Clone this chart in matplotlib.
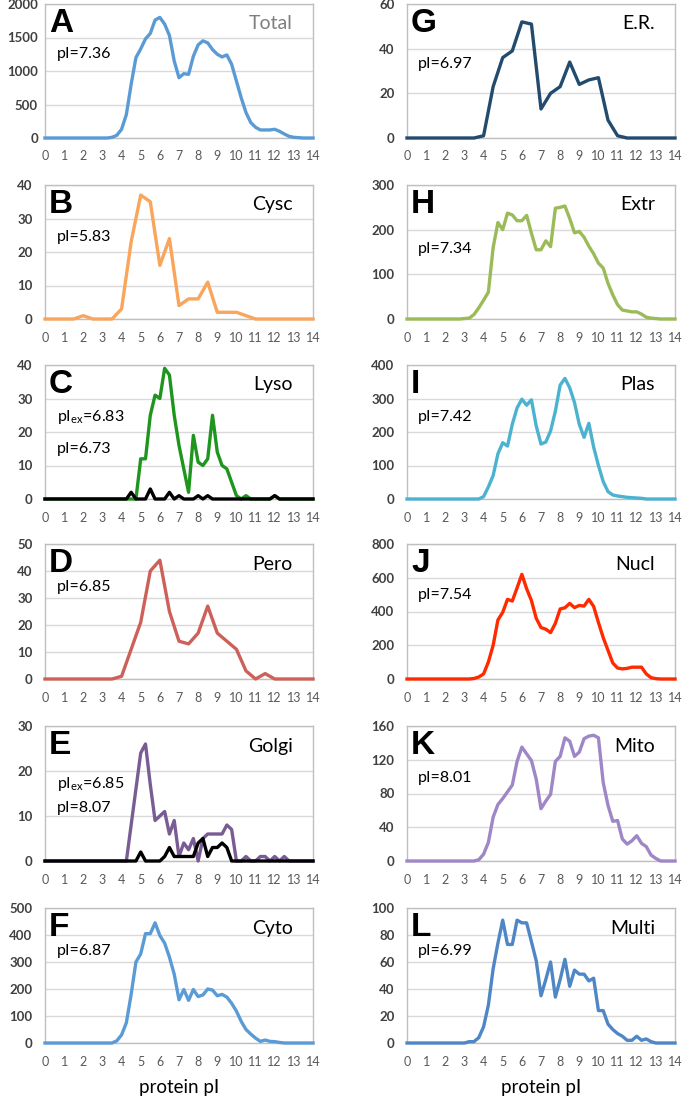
import matplotlib
matplotlib.use("Agg")
import matplotlib.pyplot as plt
import numpy as np

plt.rcParams["font.family"] = ["Lato", "DejaVu Sans"]
plt.rcParams["mathtext.default"] = "regular"

# bin centres (protein pI); some panels use 0.5 bins, the rest 0.25 bins
x_half = np.arange(0, 14.01, 0.5)
x_quarter = np.arange(0, 14.01, 0.25)

total = [0, 0, 0, 0, 0, 0, 0, 0, 0, 0, 0, 0, 0, 0,
         10, 40, 130, 350, 800, 1200, 1330, 1480, 1560, 1760, 1800, 1700,
         1530, 1150, 900, 960, 950, 1220, 1390, 1450, 1420, 1320, 1250, 1210,
         1240, 1100, 850, 600, 380, 230, 160, 120, 120, 120, 130, 100,
         60, 25, 10, 5, 0, 0, 0]
er = [0, 0, 0, 0, 0, 0, 0, 0,
      1, 23, 36, 39, 52, 51, 13, 20, 23, 34, 24, 26, 27, 8, 1,
      0, 0, 0, 0, 0, 0]
cysc = [0, 0, 0, 0, 1, 0, 0, 0,
        3, 23, 37, 35, 16, 24, 4, 6, 6, 11, 2, 2, 2, 1, 0,
        0, 0, 0, 0, 0, 0]
extr = [0, 0, 0, 0, 0, 0, 0, 0, 0, 0, 0, 0,
        1, 2, 10, 25, 42, 60, 160, 216, 200, 237, 233, 220, 220, 232, 192, 155,
        155, 175, 162, 248, 250, 253, 225, 193, 196, 183, 163, 146,
        125, 114, 80, 54, 32, 20, 18, 16, 16, 11, 4, 2, 1, 0, 0, 0, 0]
lyso = [0, 0, 0, 0, 0, 0, 0, 0, 0, 0, 0, 0, 0, 0, 0, 0, 0, 0, 0, 0,
        12, 12, 25, 31, 30, 39, 37, 25, 16, 9, 2, 19, 11, 10, 12, 25,
        14, 10, 9, 5, 1, 0, 1, 0, 0, 0, 0, 0, 1, 0, 0, 0, 0, 0, 0, 0, 0]
lyso_ex = [0, 0, 0, 0, 0, 0, 0, 0, 0, 0, 0, 0, 0, 0, 0, 0,
           0, 0, 2, 0, 0, 0, 3, 0, 0, 0, 2, 0, 1, 0, 0, 0, 1, 0, 1, 0,
           0, 0, 0, 0, 0, 0, 0, 0, 0, 0, 0, 0, 1, 0, 0, 0, 0, 0, 0, 0, 0]
plas = [0, 0, 0, 0, 0, 0, 0, 0, 0, 0, 0, 0, 0, 0, 0, 0,
        7, 36, 70, 135, 168, 158, 223, 272, 298, 280, 296, 218,
        164, 170, 203, 262, 340, 360, 332, 288, 223, 184, 226, 155,
        100, 52, 22, 12, 9, 7, 5, 4, 3, 2, 0, 0, 0, 0, 0, 0, 0]
pero = [0, 0, 0, 0, 0, 0, 0, 0,
        1, 11, 21, 40, 44, 25, 14, 13, 17, 27, 17, 14, 11, 3, 0, 2,
        0, 0, 0, 0, 0]
nucl = [0, 0, 0, 0, 0, 0, 0, 0, 0, 0, 0, 0, 0, 0,
        3, 12, 30, 100, 200, 350, 395, 472, 462, 540, 620, 535, 465, 360,
        305, 295, 275, 330, 415, 422, 448, 423, 436, 432, 472, 430,
        335, 245, 170, 95, 65, 60, 63, 70, 70, 70, 30, 8, 2, 0, 0, 0, 0]
golgi = [0, 0, 0, 0, 0, 0, 0, 0, 0, 0, 0, 0, 0, 0, 0, 0, 0, 0,
         8, 16, 24, 26, 17, 9, 10, 11, 6, 9, 1, 4, 2.5, 5, 0, 5, 6, 6,
         6, 6, 8, 7, 0, 0, 1, 0, 0, 1, 1, 0, 1, 0, 1, 0, 0, 0, 0, 0, 0]
golgi_ex = [0, 0, 0, 0, 0, 0, 0, 0, 0, 0, 0, 0, 0, 0, 0, 0, 0, 0, 0, 0,
            2, 0, 0, 0, 0, 1, 3, 1, 1, 1, 1, 1, 4, 5, 1, 3, 3, 4, 3, 0,
            0, 0, 0, 0, 0, 0, 0, 0, 0, 0, 0, 0, 0, 0, 0, 0, 0]
mito = [0, 0, 0, 0, 0, 0, 0, 0, 0, 0, 0, 0, 0, 0, 0,
        1.5, 8, 22, 52, 67, 74, 82, 90, 118, 135, 127, 119, 97,
        62, 71, 79, 118, 124, 146, 142, 124, 129, 145, 148, 149,
        146, 93, 66, 47, 48, 26, 20, 24, 30, 21, 17, 7, 3, 0, 0, 0, 0]
cyto = [0, 0, 0, 0, 0, 0, 0, 0, 0, 0, 0, 0, 0, 0, 0,
        8, 30, 75, 180, 300, 330, 405, 405, 445, 398, 370, 318, 255,
        160, 198, 158, 198, 172, 178, 200, 196, 175, 180, 170, 147,
        118, 80, 50, 33, 18, 6, 11, 6, 5, 2, 0, 0, 0, 0, 0, 0, 0]
multi = [0, 0, 0, 0, 0, 0, 0, 0, 0, 0, 0, 0,
         0, 1, 1, 4, 12, 28, 55, 74, 91, 73, 73, 91, 89, 89, 75, 61,
         35, 47, 60, 34, 47, 62, 42, 54, 51, 51, 46, 48,
         24, 24, 14, 10, 7, 5, 2, 2, 5, 2, 3, 1, 0, 0, 0, 0, 0]

# (letter, name, pI text, x, series, colour, extra black series, y max, y step)
panels = [
    ("A", "Total", ["pI=7.36"], x_quarter, total, "#5B9BD5", None, 2000, 500),
    ("G", "E.R.", ["pI=6.97"], x_half, er, "#234B6E", None, 60, 20),
    ("B", "Cysc", ["pI=5.83"], x_half, cysc, "#F9A55B", None, 40, 10),
    ("H", "Extr", ["pI=7.34"], x_quarter, extr, "#9BBB59", None, 300, 100),
    ("C", "Lyso", ["pI$_{ex}$=6.83", "pI=6.73"], x_quarter, lyso, "#1E961E", lyso_ex, 40, 10),
    ("I", "Plas", ["pI=7.42"], x_quarter, plas, "#4BB3D0", None, 400, 100),
    ("D", "Pero", ["pI=6.85"], x_half, pero, "#CD6159", None, 50, 10),
    ("J", "Nucl", ["pI=7.54"], x_quarter, nucl, "#FF2A00", None, 800, 200),
    ("E", "Golgi", ["pI$_{ex}$=6.85", "pI=8.07"], x_quarter, golgi, "#7A5C94", golgi_ex, 30, 10),
    ("K", "Mito", ["pI=8.01"], x_quarter, mito, "#9F86C6", None, 160, 40),
    ("F", "Cyto", ["pI=6.87"], x_quarter, cyto, "#5B9BD5", None, 500, 100),
    ("L", "Multi", ["pI=6.99"], x_quarter, multi, "#4F86C6", None, 100, 20),
]

# pixel layout of the original figure
W, H = 685, 1096
col_left = [45, 407]
col_width = 268
row_top = [4, 185, 365, 544, 726, 908]
row_bottom = [138, 319, 499, 679, 861, 1043]

# y of each pI text line (axes fraction)
pi_pos = {"A": [0.63], "G": [0.55], "B": [0.61], "H": [0.52], "C": [0.61, 0.37],
          "I": [0.61], "D": [0.68], "J": [0.62], "E": [0.57, 0.39], "K": [0.615],
          "F": [0.68], "L": [0.68]}

fig = plt.figure(figsize=(W / 100, H / 100), dpi=100)

for i, (letter, name, pi_txt, x, y, color, ex, ymax, ystep) in enumerate(panels):
    row, col = divmod(i, 2)
    left = col_left[col] / W
    bottom = 1 - row_bottom[row] / H
    height = (row_bottom[row] - row_top[row]) / H
    ax = fig.add_axes([left, bottom, col_width / W, height])

    ax.plot(x, y, color=color, lw=2.4, clip_on=False, zorder=3)
    if ex is not None:
        ax.plot(x, ex, color="black", lw=2.4, clip_on=False, zorder=4)

    ax.set_xlim(0, 14)
    ax.set_ylim(0, ymax)
    ax.set_xticks(range(15))
    ax.set_yticks(np.arange(0, ymax + 1, ystep))
    ax.grid(axis="y", color="#D9D9D9", lw=1)
    ax.set_axisbelow(True)
    for s in ax.spines.values():
        s.set_color("#BFBFBF")
        s.set_linewidth(1)
    ax.tick_params(length=0)
    ax.tick_params(axis="x", labelsize=9, labelcolor="#595959", pad=9)
    ax.tick_params(axis="y", labelsize=9.5, labelcolor="#404040",
                   pad=5 if letter == "A" else 9)
    for t in ax.get_yticklabels():
        t.set_fontweight("bold")

    ax.text(0.015, 0.79, letter, transform=ax.transAxes, fontsize=24,
            fontweight="bold", family=["Liberation Sans", "DejaVu Sans"],
            va="baseline", ha="left")
    ax.text(0.925, 0.81, name, transform=ax.transAxes, fontsize=14,
            color="#7F7F7F" if letter == "A" else "black",
            va="baseline", ha="right")
    xo = 0.045 if col == 0 else 0.042
    for txt, yy in zip(pi_txt, pi_pos[letter]):
        ax.text(xo, yy, txt, transform=ax.transAxes, fontsize=11.5,
                va="center", ha="left")

    if row == 5:
        ax.set_xlabel("protein pI", fontsize=13.5, labelpad=8)

fig.savefig("out.png", dpi=100)
